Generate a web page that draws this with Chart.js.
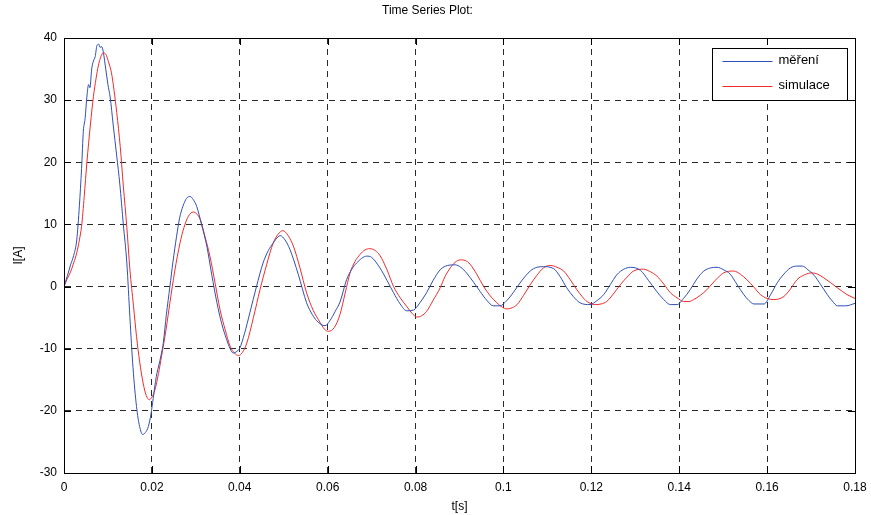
<!DOCTYPE html>
<html>
<head>
<meta charset="utf-8">
<script src="https://cdn.jsdelivr.net/npm/chart.js@4/dist/chart.umd.min.js"></script>
<style>
  html, body { margin: 0; padding: 0; background: #fff; }
  #wrap { width: 871px; height: 515px; }
</style>
</head>
<body>
<div id="wrap"><canvas id="mainChart"></canvas></div>
<script>
const seriesNames = ['měření', 'simulace'];
const xTicks = [0, 0.02, 0.04, 0.06, 0.08, 0.1, 0.12, 0.14, 0.16, 0.18];
const yTicks = [-30, -20, -10, 0, 10, 20, 30, 40];

// měření (measured)
const tMer = [0,0.0008,0.0015,0.0022,0.0029,0.0035,0.0040,0.0044,0.0048,0.0052,0.0056,0.0059,0.0063,0.0067,0.0071,0.0075,0.0079,0.0082,0.0086,0.0090,0.0095,0.0100,0.0105,0.0112,0.0120,0.0127,0.0135,0.0143,0.0150,0.0157,0.0165,0.0172,0.0179,0.0185,0.0192,0.0198,0.0203,0.0210,0.0218,0.0226,0.0233,0.0241,0.0248,0.0256,0.0263,0.0271,0.0279,0.0287,0.0294,0.0302,0.0313,0.0325,0.0336,0.0348,0.0359,0.0370,0.0378,0.0385,0.0392,0.0400,0.0411,0.0423,0.0438,0.0453,0.0465,0.0476,0.0487,0.0492,0.0503,0.0514,0.0533,0.0552,0.0565,0.0575,0.0594,0.0605,0.0617,0.0628,0.0643,0.0655,0.0666,0.0689,0.0700,0.0719,0.0735,0.0750,0.0765,0.0780,0.0795,0.0810,0.0825,0.0840,0.0856,0.0873,0.0890,0.0903,0.0916,0.0932,0.0947,0.0962,0.0977,0.0992,0.1007,0.1022,0.1041,0.1061,0.1076,0.1091,0.1114,0.1129,0.1144,0.1159,0.1174,0.1197,0.1212,0.1228,0.1243,0.1258,0.1274,0.1289,0.1312,0.1330,0.1349,0.1365,0.1380,0.1395,0.1410,0.1425,0.1440,0.1456,0.1471,0.1486,0.1501,0.1516,0.1531,0.1547,0.1558,0.1570,0.1593,0.1608,0.1623,0.1638,0.1653,0.1668,0.1680,0.1693,0.1707,0.1722,0.1737,0.1748,0.1760,0.1779,0.1800];
const iMer = [0,1.8,3.5,5.0,7.5,13,19,25,27,30.5,32.5,32,35,36.3,37,38.8,39,38.5,38.6,37.5,35,32.5,30.5,26,21,16.5,10,3.8,-5,-13,-19.3,-22.5,-23.8,-23.5,-22.5,-20.5,-18,-14.5,-12,-9,-4.5,0,4,8,11,13,14.2,14.5,14,12.9,10,6.5,2,-2.6,-6,-8.5,-10,-10.7,-10.5,-9.9,-7.5,-4.2,0,3.8,5.8,7.0,8,8.2,7.5,6,2,-2.6,-4.5,-5.5,-6.3,-5.5,-4,-2.5,1.1,2.8,3.8,4.9,4.7,3,1,-1,-2.8,-3.9,-3.8,-2.6,-1,1,2.7,3.4,3.5,3.1,2.2,0.7,-0.8,-2.2,-3.1,-3.1,-2.3,-1,0.9,2.5,3.1,3.2,2.9,1.6,-0.2,-1.6,-2.6,-2.9,-2.3,-1.3,0.3,1.9,2.8,3.1,2.6,1.0,-0.8,-2.1,-2.9,-2.9,-1.9,-0.5,1.2,2.5,3.0,3.1,2.7,2,0.4,-1.3,-2.2,-2.8,-2.8,-1.3,0.6,2,3,3.3,3.3,2.7,1.8,0.3,-1.3,-2.3,-3.1,-3.1,-2.7];

// simulace (simulated)
const tSim = [0,0.0007,0.0014,0.0022,0.0029,0.0035,0.0040,0.0046,0.0052,0.0060,0.0067,0.0073,0.0078,0.0084,0.0089,0.0095,0.0101,0.0108,0.0114,0.0120,0.0128,0.0135,0.0143,0.0150,0.0158,0.0165,0.0172,0.0180,0.0187,0.0194,0.0200,0.0207,0.0215,0.0222,0.0232,0.0241,0.0252,0.0264,0.0273,0.0283,0.0294,0.0302,0.0310,0.0321,0.0332,0.0344,0.0355,0.0367,0.0378,0.0388,0.0397,0.0406,0.0416,0.0431,0.0446,0.0461,0.0476,0.0487,0.0498,0.0510,0.0522,0.0537,0.0552,0.0567,0.0583,0.0592,0.0602,0.0615,0.0628,0.0640,0.0651,0.0662,0.0674,0.0685,0.0696,0.0708,0.0719,0.0735,0.0750,0.0765,0.0780,0.0792,0.0803,0.0814,0.0825,0.0840,0.0856,0.0867,0.0879,0.0890,0.0902,0.0913,0.0924,0.0940,0.0955,0.0970,0.0985,0.0997,0.1008,0.1020,0.1031,0.1046,0.1061,0.1076,0.1091,0.1107,0.1122,0.1137,0.1152,0.1167,0.1179,0.1190,0.1209,0.1222,0.1235,0.1250,0.1266,0.1281,0.1296,0.1319,0.1334,0.1349,0.1365,0.1380,0.1395,0.1410,0.1422,0.1433,0.1448,0.1463,0.1482,0.1501,0.1524,0.1539,0.1554,0.1570,0.1585,0.1600,0.1615,0.1638,0.1653,0.1668,0.1685,0.1702,0.1715,0.1729,0.1745,0.1760,0.1782,0.1800];
const iSim = [0,1.2,2.2,3.8,5.4,7.5,9.7,14.5,19.9,26,30.6,33.5,35.5,37,37.6,37.4,36.2,34.4,31.5,28,22.5,16.2,9.5,2.7,-3,-8,-12,-15.5,-17.5,-18.2,-17.8,-16.6,-14,-11.2,-7,-2.6,2.5,7,9.5,11.3,12,11.7,10.8,8,4.9,0.5,-3.7,-7,-9.6,-10.7,-11.1,-10.6,-9.1,-5,-0.5,3.5,7,8.4,9,8.2,6.5,3,-1,-3.8,-5.8,-6.8,-7.2,-6.6,-4.5,-1,2.2,4,5.2,5.9,6.1,5.8,5,2.7,0,-1.8,-3.2,-4.3,-4.9,-4.7,-4,-2.2,-0.2,1.6,3,3.9,4.3,4.2,3.6,1.9,0,-1.5,-2.6,-3.3,-3.6,-3.4,-2.9,-1.4,0.3,1.8,3,3.4,3.1,2.5,1.1,-0.5,-1.6,-2.4,-2.9,-2.8,-2.4,-1.2,0.3,1.5,2.5,2.8,2.4,1.7,0.4,-1,-1.8,-2.4,-2.4,-2.1,-1.4,-0.5,1,2.2,2.5,2,1.1,-0.1,-1.3,-1.9,-2.1,-1.6,-0.4,1.1,1.9,2.2,2,1.4,0.6,-0.2,-1.3,-1.9];

const colors = ['#2f4fb8', '#f22a2a'];
const FONT = 'Liberation Sans, Arial, Helvetica, sans-serif';

function pairs(xs, ys) {
  return xs.map((x, i) => ({ x: x, y: ys[i] }));
}

// frame, inward ticks and boxed legend like the original figure
const matlabFrame = {
  id: 'matlabFrame',
  afterDatasetsDraw(chart) {
    const { ctx, chartArea: a, scales } = chart;
    ctx.save();
    ctx.strokeStyle = '#000';
    ctx.lineWidth = 1;
    ctx.setLineDash([]);
    ctx.beginPath();
    xTicks.forEach(v => {
      const px = Math.round(scales.x.getPixelForValue(v)) + 0.5;
      ctx.moveTo(px, a.bottom); ctx.lineTo(px, a.bottom - 7);
      ctx.moveTo(px, a.top); ctx.lineTo(px, a.top + 7);
    });
    yTicks.forEach(v => {
      const py = Math.round(scales.y.getPixelForValue(v)) + 0.5;
      ctx.moveTo(a.left, py); ctx.lineTo(a.left + 7, py);
      ctx.moveTo(a.right, py); ctx.lineTo(a.right - 7, py);
    });
    ctx.stroke();
    ctx.strokeRect(Math.round(a.left) + 0.5, Math.round(a.top) + 0.5,
      Math.round(a.right - a.left), Math.round(a.bottom - a.top));

    // legend box
    const w = 135, h = 52;
    const lx = Math.round(a.right - 8 - w) + 0.5, ly = Math.round(a.top + 10) + 0.5;
    ctx.fillStyle = '#fff';
    ctx.fillRect(lx, ly, w, h);
    ctx.strokeRect(lx, ly, w, h);
    ctx.font = '13px ' + FONT;
    ctx.textBaseline = 'middle';
    seriesNames.forEach((name, i) => {
      const yy = ly + 13 + i * 25;
      ctx.strokeStyle = colors[i];
      ctx.beginPath();
      ctx.moveTo(lx + 10, yy); ctx.lineTo(lx + 60, yy);
      ctx.stroke();
      ctx.fillStyle = '#000';
      ctx.fillText(name, lx + 66, yy - 1);
    });
    ctx.restore();
  }
};

new Chart(document.getElementById('mainChart'), {
  type: 'line',
  data: {
    datasets: [
      { label: seriesNames[0], data: pairs(tMer, iMer), borderColor: colors[0], borderWidth: 1, pointRadius: 0, cubicInterpolationMode: 'monotone' },
      { label: seriesNames[1], data: pairs(tSim, iSim), borderColor: colors[1], borderWidth: 1, pointRadius: 0, cubicInterpolationMode: 'monotone' }
    ]
  },
  options: {
    responsive: true,
    maintainAspectRatio: false,
    animation: false,
    layout: { padding: { left: 0, right: 16, top: 0, bottom: 0 } },
    plugins: {
      legend: { display: false },
      tooltip: { enabled: false },
      title: {
        display: true,
        text: 'Time Series Plot:',
        color: '#000',
        font: { family: FONT, size: 12, weight: 'normal' },
        padding: { top: 3, bottom: 20.6 }
      }
    },
    scales: {
      x: {
        type: 'linear',
        min: 0, max: 0.18,
        afterBuildTicks: s => { s.ticks = xTicks.map(v => ({ value: v })); },
        afterFit: s => { s.height = 42; s.paddingRight = 0; s.paddingLeft = 0; },
        ticks: {
          color: '#000', padding: 7, maxRotation: 0,
          font: { family: FONT, size: 12 },
          callback: v => String(Number(v.toFixed(2)))
        },
        grid: { color: '#2a2a2a', lineWidth: 1, drawTicks: false },
        border: { display: true, color: '#000', dash: [6, 5] },
        title: {
          display: true, text: 't[s]', color: '#000',
          font: { family: FONT, size: 12 }, padding: { top: 0, bottom: 1 }
        }
      },
      y: {
        min: -30, max: 40,
        afterBuildTicks: s => { s.ticks = yTicks.map(v => ({ value: v })); },
        afterFit: s => { s.width = 64; },
        ticks: {
          color: '#000', padding: 7,
          font: { family: FONT, size: 12 }
        },
        grid: { color: '#2a2a2a', lineWidth: 1, drawTicks: false },
        border: { display: true, color: '#000', dash: [6, 5] },
        title: {
          display: true, text: 'I[A]', color: '#000',
          font: { family: FONT, size: 12 }, padding: { top: 11, bottom: 0 }
        }
      }
    }
  },
  plugins: [matlabFrame]
});
</script>
</body>
</html>
